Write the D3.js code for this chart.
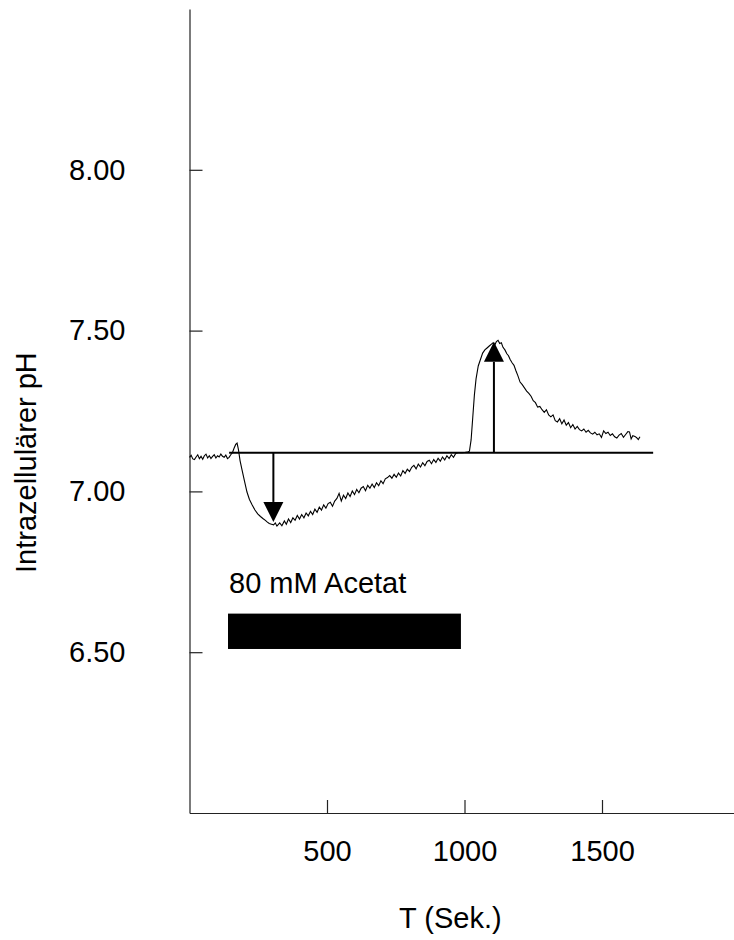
<!DOCTYPE html>
<html>
<head>
<meta charset="utf-8">
<script src="https://cdn.jsdelivr.net/npm/d3@7"></script>
<style>
  html, body { margin: 0; padding: 0; background: #fff; }
  svg { display: block; }
  text { font-family: "Liberation Sans", Arial, Helvetica, sans-serif; fill: #000; }
</style>
</head>
<body>
<svg id="chart" width="734" height="940"></svg>
<script>
// ---- data ----
const timeSec = [
  0, 6, 12, 18, 24, 30, 36, 42, 48, 54, 60, 66, 72, 78, 84, 90, 96, 102, 108, 114,
  120, 126, 132, 138, 144, 150, 156, 162, 168, 173, 178, 184, 191, 200, 209, 218, 228, 238, 248, 258,
  268, 276, 282, 290, 298, 306, 312, 318, 328, 336, 345, 352, 360, 368, 376, 384, 392, 400, 408, 416,
  424, 432, 440, 448, 456, 464, 472, 480, 488, 496, 504, 512, 520, 528, 536, 544, 552, 560, 568, 576,
  584, 592, 600, 608, 616, 624, 632, 640, 648, 656, 664, 672, 680, 688, 696, 704, 712, 720, 728, 736,
  744, 752, 760, 768, 776, 784, 792, 800, 808, 816, 824, 832, 840, 848, 856, 864, 872, 880, 888, 896,
  904, 912, 920, 928, 936, 944, 952, 960, 968, 976, 984, 992, 1000, 1010, 1018, 1024, 1030, 1036, 1042, 1050,
  1058, 1066, 1074, 1082, 1090, 1098, 1104, 1110, 1116, 1122, 1128, 1134, 1140, 1147, 1154, 1160, 1166, 1173, 1180, 1187,
  1194, 1202, 1210, 1218, 1226, 1234, 1242, 1250, 1258, 1266, 1274, 1282, 1290, 1298, 1306, 1314, 1322, 1330, 1338, 1346,
  1354, 1362, 1370, 1378, 1386, 1394, 1402, 1410, 1418, 1426, 1434, 1442, 1450, 1458, 1466, 1474, 1482, 1490, 1498, 1506,
  1514, 1522, 1530, 1538, 1546, 1554, 1562, 1570, 1578, 1586, 1594, 1600, 1606, 1612, 1620, 1626, 1632, 1638
];
const phValues = [
  7.106, 7.112, 7.101, 7.099, 7.107, 7.114, 7.102, 7.109, 7.100, 7.111, 7.116, 7.104, 7.111, 7.102, 7.109, 7.114, 7.104, 7.111, 7.107, 7.116,
  7.109, 7.106, 7.113, 7.102, 7.106, 7.114, 7.120, 7.134, 7.146, 7.150, 7.130, 7.095, 7.067, 7.032, 6.998, 6.975, 6.958, 6.942, 6.930, 6.922,
  6.915, 6.910, 6.905, 6.900, 6.898, 6.896, 6.902, 6.892, 6.902, 6.893, 6.908, 6.898, 6.914, 6.903, 6.918, 6.910, 6.925, 6.914, 6.928, 6.918,
  6.933, 6.924, 6.938, 6.928, 6.945, 6.935, 6.951, 6.942, 6.958, 6.948, 6.962, 6.966, 6.954, 6.970, 6.978, 6.994, 6.970, 6.988, 6.978, 6.995,
  6.984, 7.001, 6.990, 7.006, 6.996, 7.010, 7.015, 7.002, 7.019, 7.010, 7.023, 7.012, 7.027, 7.018, 7.033, 7.024, 7.039, 7.043, 7.049, 7.041,
  7.053, 7.044, 7.057, 7.048, 7.065, 7.056, 7.069, 7.062, 7.075, 7.081, 7.070, 7.085, 7.076, 7.089, 7.080, 7.093, 7.097, 7.086, 7.099, 7.090,
  7.103, 7.094, 7.107, 7.098, 7.111, 7.102, 7.114, 7.106, 7.118, 7.120, 7.121, 7.120, 7.121, 7.122, 7.125, 7.160, 7.230, 7.300, 7.350, 7.390,
  7.410, 7.430, 7.440, 7.446, 7.452, 7.458, 7.462, 7.455, 7.466, 7.470, 7.460, 7.462, 7.448, 7.440, 7.428, 7.422, 7.410, 7.400, 7.392, 7.375,
  7.360, 7.340, 7.332, 7.322, 7.312, 7.305, 7.296, 7.282, 7.276, 7.262, 7.264, 7.254, 7.246, 7.254, 7.238, 7.232, 7.238, 7.220, 7.216, 7.226,
  7.210, 7.222, 7.206, 7.214, 7.198, 7.208, 7.194, 7.202, 7.192, 7.188, 7.194, 7.184, 7.190, 7.182, 7.178, 7.184, 7.176, 7.179, 7.168, 7.188,
  7.180, 7.184, 7.174, 7.179, 7.170, 7.166, 7.175, 7.180, 7.168, 7.177, 7.186, 7.185, 7.163, 7.173, 7.171, 7.167, 7.161, 7.170
];
const xTicks = [500, 1000, 1500];
const yTicks = [6.5, 7.0, 7.5, 8.0];
const xDomain = [0, 2000];
const yDomain = [6.0, 8.5];
const baselinePH = 7.12;
const baselineRange = [144, 1686];
const arrowTime = [305, 1107];
const arrowTipPH = [6.905, 7.465];
const acetatLabel = "80 mM Acetat";
const acetatTime = [140, 987];
const acetatPH = [6.51, 6.62];
const xLabel = "T (Sek.)";
const yLabel = "Intrazellulärer pH";

// ---- drawing ----
const svg = d3.select("#chart");
const FS = 29;
const x = d3.scaleLinear().domain(xDomain).range([189.5, 739.5]);
const y = d3.scaleLinear().domain(yDomain).range([813, 9]);

// axes
const yAxis = d3.axisLeft(y).tickValues(yTicks).tickFormat(d3.format(".2f"))
  .tickSizeInner(-13).tickSizeOuter(0).tickPadding(64);
const gy = svg.append("g").attr("transform", "translate(189.5,0)").call(yAxis);
gy.selectAll("text").style("font-size", FS + "px");

const xAxis = d3.axisBottom(x).tickValues(xTicks).tickFormat(d3.format("d"))
  .tickSizeInner(-13).tickSizeOuter(0).tickPadding(27);
const gx = svg.append("g").attr("transform", "translate(0,813)").call(xAxis);
gx.selectAll("text").style("font-size", FS + "px");

svg.selectAll(".domain, .tick line").attr("stroke", "#222").attr("stroke-width", 1.2);

// axis titles
svg.append("text").attr("x", 399).attr("y", 928).style("font-size", FS + "px").text(xLabel);
svg.append("text").attr("transform", "translate(36,573) rotate(-90)")
  .style("font-size", FS + "px").text(yLabel);

// reference line
svg.append("line")
  .attr("x1", x(baselineRange[0])).attr("x2", x(baselineRange[1]))
  .attr("y1", y(baselinePH)).attr("y2", y(baselinePH))
  .attr("stroke", "#000").attr("stroke-width", 2);

// trace
const pts = timeSec.map((t, i) => [t, phValues[i]]);
svg.append("path").datum(pts)
  .attr("fill", "none").attr("stroke", "#000").attr("stroke-width", 1.1)
  .attr("d", d3.line().x(d => x(d[0])).y(d => y(d[1])));

// arrows
const HEAD = 20, HALF = 10;
arrowTime.forEach((t, i) => {
  const ax = x(t), y0 = y(baselinePH), yt = y(arrowTipPH[i]);
  const dir = yt > y0 ? 1 : -1;
  const yb = yt - dir * HEAD;
  svg.append("line").attr("x1", ax).attr("x2", ax).attr("y1", y0).attr("y2", yb)
    .attr("stroke", "#000").attr("stroke-width", 2);
  svg.append("path")
    .attr("d", `M${ax - HALF},${yb}L${ax + HALF},${yb}L${ax},${yt}Z`)
    .attr("fill", "#000");
});

// acetat bar
svg.append("rect")
  .attr("x", x(acetatTime[0])).attr("width", x(acetatTime[1]) - x(acetatTime[0]))
  .attr("y", y(acetatPH[1])).attr("height", y(acetatPH[0]) - y(acetatPH[1]))
  .attr("fill", "#000");
svg.append("text").attr("x", 229).attr("y", 593).style("font-size", FS + "px").text(acetatLabel);
</script>
</body>
</html>
